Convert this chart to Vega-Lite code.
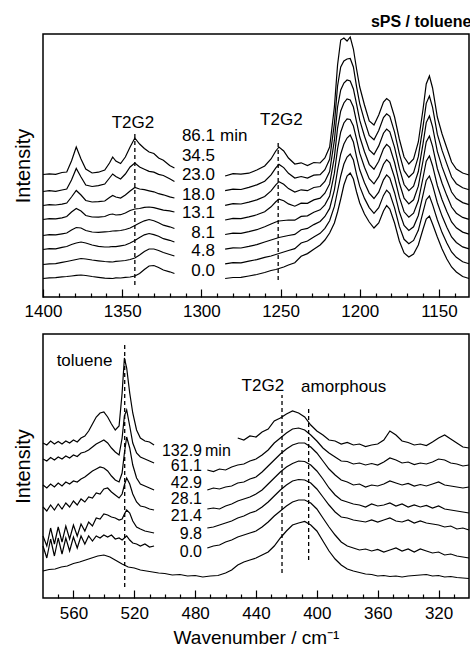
{
"$schema": "https://vega.github.io/schema/vega-lite/v6.json",
"background": "white",
"padding": {"left": 12, "top": 13, "right": 0, "bottom": 0},
"spacing": 9,
"config": {
  "font": "Liberation Sans",
  "view": {"stroke": "black", "strokeWidth": 1.5},
  "axis": {"grid": false, "domain": false, "labelColor": "black", "titleColor": "black", "tickColor": "black", "labelFont": "Liberation Sans", "titleFont": "Liberation Sans", "titleFontWeight": "normal"},
  "text": {"font": "Liberation Sans", "fontSize": 17, "color": "black"}
},
"datasets": {
"top": [
{"k":"t1a","x":1400,"y":122.5},{"k":"t1a","x":1396,"y":123.2},{"k":"t1a","x":1392,"y":122.6},{"k":"t1a","x":1388,"y":124.5},{"k":"t1a","x":1385,"y":125},{"k":"t1a","x":1382,"y":136},{"k":"t1a","x":1379,"y":150},{"k":"t1a","x":1376,"y":138},{"k":"t1a","x":1373,"y":128},{"k":"t1a","x":1369,"y":124},{"k":"t1a","x":1365,"y":124.8},{"k":"t1a","x":1361,"y":127},{"k":"t1a","x":1358,"y":134},{"k":"t1a","x":1356,"y":140},{"k":"t1a","x":1354,"y":136},{"k":"t1a","x":1351,"y":133.5},{"k":"t1a","x":1348,"y":140},{"k":"t1a","x":1345,"y":150},{"k":"t1a","x":1342,"y":159},{"k":"t1a","x":1339,"y":153},{"k":"t1a","x":1336,"y":148.5},{"k":"t1a","x":1333,"y":145},{"k":"t1a","x":1330,"y":143.5},{"k":"t1a","x":1327,"y":139},{"k":"t1a","x":1324,"y":136.8},{"k":"t1a","x":1320,"y":131.5},{"k":"t1a","x":1317,"y":129},
{"k":"t2a","x":1400,"y":105.5},{"k":"t2a","x":1396,"y":106.4},{"k":"t2a","x":1392,"y":105.6},{"k":"t2a","x":1388,"y":107},{"k":"t2a","x":1385,"y":108},{"k":"t2a","x":1382,"y":117},{"k":"t2a","x":1379,"y":128.5},{"k":"t2a","x":1376,"y":120},{"k":"t2a","x":1373,"y":112},{"k":"t2a","x":1369,"y":110.5},{"k":"t2a","x":1365,"y":111.3},{"k":"t2a","x":1361,"y":113},{"k":"t2a","x":1358,"y":119},{"k":"t2a","x":1356,"y":123},{"k":"t2a","x":1354,"y":120.5},{"k":"t2a","x":1351,"y":118},{"k":"t2a","x":1348,"y":123},{"k":"t2a","x":1345,"y":130},{"k":"t2a","x":1342,"y":134},{"k":"t2a","x":1339,"y":130},{"k":"t2a","x":1336,"y":127.8},{"k":"t2a","x":1333,"y":125.6},{"k":"t2a","x":1330,"y":124.8},{"k":"t2a","x":1327,"y":122.6},{"k":"t2a","x":1324,"y":121.5},{"k":"t2a","x":1320,"y":118.2},{"k":"t2a","x":1317,"y":115.5},
{"k":"t3a","x":1400,"y":91.5},{"k":"t3a","x":1396,"y":92.3},{"k":"t3a","x":1392,"y":92},{"k":"t3a","x":1388,"y":92.8},{"k":"t3a","x":1385,"y":94},{"k":"t3a","x":1382,"y":100},{"k":"t3a","x":1379,"y":106.5},{"k":"t3a","x":1376,"y":102},{"k":"t3a","x":1373,"y":96.5},{"k":"t3a","x":1369,"y":95},{"k":"t3a","x":1365,"y":95.4},{"k":"t3a","x":1361,"y":96},{"k":"t3a","x":1358,"y":99.5},{"k":"t3a","x":1356,"y":101.5},{"k":"t3a","x":1354,"y":100},{"k":"t3a","x":1351,"y":99},{"k":"t3a","x":1348,"y":102},{"k":"t3a","x":1345,"y":106},{"k":"t3a","x":1342,"y":109.5},{"k":"t3a","x":1339,"y":108},{"k":"t3a","x":1336,"y":107.3},{"k":"t3a","x":1333,"y":106.2},{"k":"t3a","x":1330,"y":105.2},{"k":"t3a","x":1327,"y":103.3},{"k":"t3a","x":1324,"y":102.2},{"k":"t3a","x":1320,"y":100.2},{"k":"t3a","x":1317,"y":99},
{"k":"t4a","x":1400,"y":77.5},{"k":"t4a","x":1396,"y":78.3},{"k":"t4a","x":1392,"y":78.2},{"k":"t4a","x":1388,"y":79.2},{"k":"t4a","x":1385,"y":80.5},{"k":"t4a","x":1382,"y":85},{"k":"t4a","x":1379,"y":88.5},{"k":"t4a","x":1376,"y":86},{"k":"t4a","x":1373,"y":81.5},{"k":"t4a","x":1369,"y":80},{"k":"t4a","x":1365,"y":79.8},{"k":"t4a","x":1361,"y":80.5},{"k":"t4a","x":1358,"y":82.5},{"k":"t4a","x":1356,"y":83},{"k":"t4a","x":1354,"y":82},{"k":"t4a","x":1351,"y":82.3},{"k":"t4a","x":1348,"y":84},{"k":"t4a","x":1345,"y":86.5},{"k":"t4a","x":1342,"y":88},{"k":"t4a","x":1339,"y":88.5},{"k":"t4a","x":1336,"y":89.7},{"k":"t4a","x":1333,"y":90},{"k":"t4a","x":1330,"y":89.3},{"k":"t4a","x":1327,"y":88.2},{"k":"t4a","x":1324,"y":86.8},{"k":"t4a","x":1320,"y":86.2},{"k":"t4a","x":1317,"y":85},
{"k":"t5a","x":1400,"y":61.5},{"k":"t5a","x":1396,"y":62.3},{"k":"t5a","x":1392,"y":62.2},{"k":"t5a","x":1388,"y":63.2},{"k":"t5a","x":1385,"y":64},{"k":"t5a","x":1382,"y":67},{"k":"t5a","x":1379,"y":69.5},{"k":"t5a","x":1376,"y":69},{"k":"t5a","x":1373,"y":66.5},{"k":"t5a","x":1369,"y":65},{"k":"t5a","x":1365,"y":64.7},{"k":"t5a","x":1361,"y":65.2},{"k":"t5a","x":1358,"y":65.5},{"k":"t5a","x":1356,"y":66},{"k":"t5a","x":1354,"y":66.2},{"k":"t5a","x":1351,"y":66.5},{"k":"t5a","x":1348,"y":67.5},{"k":"t5a","x":1345,"y":69},{"k":"t5a","x":1342,"y":71.5},{"k":"t5a","x":1339,"y":74},{"k":"t5a","x":1336,"y":76.2},{"k":"t5a","x":1333,"y":77.5},{"k":"t5a","x":1330,"y":76.3},{"k":"t5a","x":1327,"y":74.2},{"k":"t5a","x":1324,"y":71.8},{"k":"t5a","x":1320,"y":70.2},{"k":"t5a","x":1317,"y":68.5},
{"k":"t6a","x":1400,"y":47.5},{"k":"t6a","x":1396,"y":48.3},{"k":"t6a","x":1392,"y":48.2},{"k":"t6a","x":1388,"y":49.7},{"k":"t6a","x":1385,"y":50.5},{"k":"t6a","x":1382,"y":52.5},{"k":"t6a","x":1379,"y":54},{"k":"t6a","x":1376,"y":55},{"k":"t6a","x":1373,"y":54},{"k":"t6a","x":1369,"y":52},{"k":"t6a","x":1365,"y":50.7},{"k":"t6a","x":1361,"y":50},{"k":"t6a","x":1358,"y":50.2},{"k":"t6a","x":1356,"y":50.5},{"k":"t6a","x":1354,"y":50.3},{"k":"t6a","x":1351,"y":51.2},{"k":"t6a","x":1348,"y":52},{"k":"t6a","x":1345,"y":54},{"k":"t6a","x":1342,"y":56.5},{"k":"t6a","x":1339,"y":59.5},{"k":"t6a","x":1336,"y":62.2},{"k":"t6a","x":1333,"y":63.5},{"k":"t6a","x":1330,"y":62.3},{"k":"t6a","x":1327,"y":60.7},{"k":"t6a","x":1324,"y":58.3},{"k":"t6a","x":1320,"y":56.7},{"k":"t6a","x":1317,"y":55},
{"k":"t7a","x":1400,"y":32.5},{"k":"t7a","x":1396,"y":33.2},{"k":"t7a","x":1392,"y":33.3},{"k":"t7a","x":1388,"y":34.6},{"k":"t7a","x":1385,"y":35.5},{"k":"t7a","x":1382,"y":36.5},{"k":"t7a","x":1379,"y":37.5},{"k":"t7a","x":1376,"y":38.5},{"k":"t7a","x":1373,"y":38},{"k":"t7a","x":1369,"y":37},{"k":"t7a","x":1365,"y":36.2},{"k":"t7a","x":1361,"y":35.5},{"k":"t7a","x":1358,"y":35.2},{"k":"t7a","x":1356,"y":35},{"k":"t7a","x":1354,"y":35.6},{"k":"t7a","x":1351,"y":36},{"k":"t7a","x":1348,"y":36.5},{"k":"t7a","x":1345,"y":37.5},{"k":"t7a","x":1342,"y":39},{"k":"t7a","x":1339,"y":42},{"k":"t7a","x":1336,"y":45.5},{"k":"t7a","x":1333,"y":48},{"k":"t7a","x":1330,"y":48},{"k":"t7a","x":1327,"y":46.5},{"k":"t7a","x":1324,"y":44.5},{"k":"t7a","x":1320,"y":42.5},{"k":"t7a","x":1317,"y":41},
{"k":"t8a","x":1400,"y":18.5},{"k":"t8a","x":1396,"y":19.2},{"k":"t8a","x":1392,"y":19.3},{"k":"t8a","x":1388,"y":20.2},{"k":"t8a","x":1385,"y":20.5},{"k":"t8a","x":1382,"y":21},{"k":"t8a","x":1379,"y":21.6},{"k":"t8a","x":1376,"y":22},{"k":"t8a","x":1373,"y":21.5},{"k":"t8a","x":1369,"y":20.5},{"k":"t8a","x":1365,"y":19.7},{"k":"t8a","x":1361,"y":18.8},{"k":"t8a","x":1358,"y":18.6},{"k":"t8a","x":1356,"y":18.5},{"k":"t8a","x":1354,"y":19.1},{"k":"t8a","x":1351,"y":19},{"k":"t8a","x":1348,"y":19.6},{"k":"t8a","x":1345,"y":20},{"k":"t8a","x":1342,"y":21},{"k":"t8a","x":1339,"y":23.5},{"k":"t8a","x":1336,"y":27.5},{"k":"t8a","x":1333,"y":31},{"k":"t8a","x":1330,"y":31.5},{"k":"t8a","x":1327,"y":29.5},{"k":"t8a","x":1324,"y":27},{"k":"t8a","x":1320,"y":25.2},{"k":"t8a","x":1317,"y":23.5},
{"k":"t1b","x":1285,"y":121},{"k":"t1b","x":1280,"y":123.3},{"k":"t1b","x":1275,"y":122.8},{"k":"t1b","x":1270,"y":123.8},{"k":"t1b","x":1265,"y":127},{"k":"t1b","x":1260,"y":131},{"k":"t1b","x":1256,"y":138},{"k":"t1b","x":1253,"y":146},{"k":"t1b","x":1251,"y":150},{"k":"t1b","x":1248,"y":146},{"k":"t1b","x":1245,"y":139},{"k":"t1b","x":1241,"y":133},{"k":"t1b","x":1237,"y":134.2},{"k":"t1b","x":1233,"y":131.5},{"k":"t1b","x":1229,"y":134.5},{"k":"t1b","x":1225,"y":134},{"k":"t1b","x":1222,"y":139},{"k":"t1b","x":1219,"y":150},{"k":"t1b","x":1216,"y":190},{"k":"t1b","x":1214,"y":232},{"k":"t1b","x":1212,"y":257},{"k":"t1b","x":1210,"y":259},{"k":"t1b","x":1208,"y":256},{"k":"t1b","x":1206,"y":260},{"k":"t1b","x":1204,"y":248},{"k":"t1b","x":1202,"y":228},{"k":"t1b","x":1200,"y":210},{"k":"t1b","x":1197,"y":192},{"k":"t1b","x":1194,"y":176},{"k":"t1b","x":1191,"y":172},{"k":"t1b","x":1188,"y":182},{"k":"t1b","x":1185,"y":195},{"k":"t1b","x":1183,"y":198.5},{"k":"t1b","x":1181,"y":196},{"k":"t1b","x":1178,"y":180},{"k":"t1b","x":1175,"y":158},{"k":"t1b","x":1172,"y":140},{"k":"t1b","x":1169,"y":133},{"k":"t1b","x":1166,"y":138},{"k":"t1b","x":1163,"y":155},{"k":"t1b","x":1160,"y":188},{"k":"t1b","x":1158,"y":213},{"k":"t1b","x":1156,"y":221},{"k":"t1b","x":1154,"y":209},{"k":"t1b","x":1151,"y":180},{"k":"t1b","x":1148,"y":163},{"k":"t1b","x":1145,"y":149},{"k":"t1b","x":1142,"y":135},{"k":"t1b","x":1139,"y":128},{"k":"t1b","x":1135,"y":124},{"k":"t1b","x":1131,"y":122},
{"k":"t2b","x":1285,"y":106.3},{"k":"t2b","x":1280,"y":107.9},{"k":"t2b","x":1275,"y":107.5},{"k":"t2b","x":1270,"y":109.7},{"k":"t2b","x":1265,"y":112.1},{"k":"t2b","x":1260,"y":115.8},{"k":"t2b","x":1256,"y":122.1},{"k":"t2b","x":1253,"y":129.1},{"k":"t2b","x":1251,"y":132.6},{"k":"t2b","x":1248,"y":129.4},{"k":"t2b","x":1245,"y":123.7},{"k":"t2b","x":1241,"y":119},{"k":"t2b","x":1237,"y":120.5},{"k":"t2b","x":1233,"y":119},{"k":"t2b","x":1229,"y":121.8},{"k":"t2b","x":1225,"y":122.3},{"k":"t2b","x":1222,"y":127.3},{"k":"t2b","x":1219,"y":137.7},{"k":"t2b","x":1216,"y":173.4},{"k":"t2b","x":1214,"y":211},{"k":"t2b","x":1212,"y":230},{"k":"t2b","x":1210,"y":236},{"k":"t2b","x":1208,"y":238},{"k":"t2b","x":1206,"y":238.5},{"k":"t2b","x":1204,"y":230},{"k":"t2b","x":1202,"y":210.4},{"k":"t2b","x":1200,"y":193.4},{"k":"t2b","x":1197,"y":176.4},{"k":"t2b","x":1194,"y":161.6},{"k":"t2b","x":1191,"y":157.3},{"k":"t2b","x":1188,"y":166.6},{"k":"t2b","x":1185,"y":179.4},{"k":"t2b","x":1183,"y":183.2},{"k":"t2b","x":1181,"y":180.6},{"k":"t2b","x":1178,"y":164.8},{"k":"t2b","x":1175,"y":143.4},{"k":"t2b","x":1172,"y":126.3},{"k":"t2b","x":1169,"y":119.7},{"k":"t2b","x":1166,"y":124.4},{"k":"t2b","x":1163,"y":140.3},{"k":"t2b","x":1160,"y":170.8},{"k":"t2b","x":1158,"y":193.7},{"k":"t2b","x":1156,"y":201},{"k":"t2b","x":1154,"y":189.6},{"k":"t2b","x":1151,"y":162.8},{"k":"t2b","x":1148,"y":146.6},{"k":"t2b","x":1145,"y":133.1},{"k":"t2b","x":1142,"y":120},{"k":"t2b","x":1139,"y":113.3},{"k":"t2b","x":1135,"y":109.2},{"k":"t2b","x":1131,"y":107.2},
{"k":"t3b","x":1285,"y":91.7},{"k":"t3b","x":1280,"y":93.3},{"k":"t3b","x":1275,"y":93},{"k":"t3b","x":1270,"y":94.9},{"k":"t3b","x":1265,"y":97.1},{"k":"t3b","x":1260,"y":100.5},{"k":"t3b","x":1256,"y":106.1},{"k":"t3b","x":1253,"y":112.1},{"k":"t3b","x":1251,"y":115.3},{"k":"t3b","x":1248,"y":112.8},{"k":"t3b","x":1245,"y":108.4},{"k":"t3b","x":1241,"y":105},{"k":"t3b","x":1237,"y":107.2},{"k":"t3b","x":1233,"y":106.3},{"k":"t3b","x":1229,"y":109.5},{"k":"t3b","x":1225,"y":110.5},{"k":"t3b","x":1222,"y":115.5},{"k":"t3b","x":1219,"y":125.4},{"k":"t3b","x":1216,"y":156.8},{"k":"t3b","x":1214,"y":190},{"k":"t3b","x":1212,"y":207},{"k":"t3b","x":1210,"y":214},{"k":"t3b","x":1208,"y":217},{"k":"t3b","x":1206,"y":216},{"k":"t3b","x":1204,"y":208},{"k":"t3b","x":1202,"y":192.8},{"k":"t3b","x":1200,"y":176.8},{"k":"t3b","x":1197,"y":160.8},{"k":"t3b","x":1194,"y":147.1},{"k":"t3b","x":1191,"y":142.5},{"k":"t3b","x":1188,"y":151.1},{"k":"t3b","x":1185,"y":163.8},{"k":"t3b","x":1183,"y":167.9},{"k":"t3b","x":1181,"y":165.1},{"k":"t3b","x":1178,"y":149.7},{"k":"t3b","x":1175,"y":128.8},{"k":"t3b","x":1172,"y":112.5},{"k":"t3b","x":1169,"y":106.4},{"k":"t3b","x":1166,"y":110.8},{"k":"t3b","x":1163,"y":125.5},{"k":"t3b","x":1160,"y":153.7},{"k":"t3b","x":1158,"y":174.4},{"k":"t3b","x":1156,"y":181},{"k":"t3b","x":1154,"y":170.1},{"k":"t3b","x":1151,"y":145.7},{"k":"t3b","x":1148,"y":130.1},{"k":"t3b","x":1145,"y":117.3},{"k":"t3b","x":1142,"y":105},{"k":"t3b","x":1139,"y":98.5},{"k":"t3b","x":1135,"y":94.4},{"k":"t3b","x":1131,"y":92.4},
{"k":"t4b","x":1285,"y":77},{"k":"t4b","x":1280,"y":78.6},{"k":"t4b","x":1275,"y":78.3},{"k":"t4b","x":1270,"y":80.1},{"k":"t4b","x":1265,"y":82.2},{"k":"t4b","x":1260,"y":85.3},{"k":"t4b","x":1256,"y":90.2},{"k":"t4b","x":1253,"y":95.2},{"k":"t4b","x":1251,"y":97.9},{"k":"t4b","x":1248,"y":96.2},{"k":"t4b","x":1245,"y":93.1},{"k":"t4b","x":1241,"y":90.8},{"k":"t4b","x":1237,"y":93.9},{"k":"t4b","x":1233,"y":93.6},{"k":"t4b","x":1229,"y":97.1},{"k":"t4b","x":1225,"y":98.8},{"k":"t4b","x":1222,"y":103.8},{"k":"t4b","x":1219,"y":113.1},{"k":"t4b","x":1216,"y":140.2},{"k":"t4b","x":1214,"y":168.9},{"k":"t4b","x":1212,"y":186},{"k":"t4b","x":1210,"y":194},{"k":"t4b","x":1208,"y":198},{"k":"t4b","x":1206,"y":197},{"k":"t4b","x":1204,"y":190},{"k":"t4b","x":1202,"y":175.2},{"k":"t4b","x":1200,"y":160.2},{"k":"t4b","x":1197,"y":145.2},{"k":"t4b","x":1194,"y":132.7},{"k":"t4b","x":1191,"y":127.8},{"k":"t4b","x":1188,"y":135.7},{"k":"t4b","x":1185,"y":148.2},{"k":"t4b","x":1183,"y":152.6},{"k":"t4b","x":1181,"y":149.7},{"k":"t4b","x":1178,"y":134.5},{"k":"t4b","x":1175,"y":114.2},{"k":"t4b","x":1172,"y":98.8},{"k":"t4b","x":1169,"y":93.1},{"k":"t4b","x":1166,"y":97.2},{"k":"t4b","x":1163,"y":110.8},{"k":"t4b","x":1160,"y":136.5},{"k":"t4b","x":1158,"y":155.1},{"k":"t4b","x":1156,"y":161},{"k":"t4b","x":1154,"y":150.7},{"k":"t4b","x":1151,"y":128.5},{"k":"t4b","x":1148,"y":113.7},{"k":"t4b","x":1145,"y":101.4},{"k":"t4b","x":1142,"y":90},{"k":"t4b","x":1139,"y":83.8},{"k":"t4b","x":1135,"y":79.6},{"k":"t4b","x":1131,"y":77.6},
{"k":"t5b","x":1285,"y":62.5},{"k":"t5b","x":1280,"y":63.9},{"k":"t5b","x":1275,"y":63.7},{"k":"t5b","x":1270,"y":65.4},{"k":"t5b","x":1265,"y":67.3},{"k":"t5b","x":1260,"y":70.2},{"k":"t5b","x":1256,"y":73},{"k":"t5b","x":1253,"y":75},{"k":"t5b","x":1251,"y":76},{"k":"t5b","x":1248,"y":76.5},{"k":"t5b","x":1245,"y":77},{"k":"t5b","x":1241,"y":76.8},{"k":"t5b","x":1237,"y":80.6},{"k":"t5b","x":1233,"y":81.2},{"k":"t5b","x":1229,"y":84.8},{"k":"t5b","x":1225,"y":87.2},{"k":"t5b","x":1222,"y":92.2},{"k":"t5b","x":1219,"y":100.9},{"k":"t5b","x":1216,"y":123.8},{"k":"t5b","x":1214,"y":148.1},{"k":"t5b","x":1212,"y":165},{"k":"t5b","x":1210,"y":174},{"k":"t5b","x":1208,"y":178},{"k":"t5b","x":1206,"y":177.5},{"k":"t5b","x":1204,"y":171},{"k":"t5b","x":1202,"y":157.8},{"k":"t5b","x":1200,"y":143.8},{"k":"t5b","x":1197,"y":129.8},{"k":"t5b","x":1194,"y":118.3},{"k":"t5b","x":1191,"y":113.2},{"k":"t5b","x":1188,"y":120.3},{"k":"t5b","x":1185,"y":132.8},{"k":"t5b","x":1183,"y":137.4},{"k":"t5b","x":1181,"y":134.3},{"k":"t5b","x":1178,"y":119.5},{"k":"t5b","x":1175,"y":99.8},{"k":"t5b","x":1172,"y":85.2},{"k":"t5b","x":1169,"y":79.9},{"k":"t5b","x":1166,"y":83.8},{"k":"t5b","x":1163,"y":96.2},{"k":"t5b","x":1160,"y":119.5},{"k":"t5b","x":1158,"y":135.9},{"k":"t5b","x":1156,"y":141.1},{"k":"t5b","x":1154,"y":131.3},{"k":"t5b","x":1151,"y":111.5},{"k":"t5b","x":1148,"y":97.3},{"k":"t5b","x":1145,"y":85.6},{"k":"t5b","x":1142,"y":75},{"k":"t5b","x":1139,"y":69.2},{"k":"t5b","x":1135,"y":64.9},{"k":"t5b","x":1131,"y":62.9},
{"k":"t6b","x":1285,"y":47.8},{"k":"t6b","x":1280,"y":49.1},{"k":"t6b","x":1275,"y":49},{"k":"t6b","x":1270,"y":50.6},{"k":"t6b","x":1265,"y":52.4},{"k":"t6b","x":1260,"y":55},{"k":"t6b","x":1256,"y":57},{"k":"t6b","x":1253,"y":58.5},{"k":"t6b","x":1251,"y":59.5},{"k":"t6b","x":1248,"y":60.5},{"k":"t6b","x":1245,"y":61.5},{"k":"t6b","x":1241,"y":62.6},{"k":"t6b","x":1237,"y":67.3},{"k":"t6b","x":1233,"y":68.6},{"k":"t6b","x":1229,"y":72.4},{"k":"t6b","x":1225,"y":75.5},{"k":"t6b","x":1222,"y":80.5},{"k":"t6b","x":1219,"y":88.6},{"k":"t6b","x":1216,"y":107.2},{"k":"t6b","x":1214,"y":127},{"k":"t6b","x":1212,"y":143},{"k":"t6b","x":1210,"y":153},{"k":"t6b","x":1208,"y":159},{"k":"t6b","x":1206,"y":162},{"k":"t6b","x":1204,"y":155},{"k":"t6b","x":1202,"y":140.2},{"k":"t6b","x":1200,"y":127.2},{"k":"t6b","x":1197,"y":114.2},{"k":"t6b","x":1194,"y":103.9},{"k":"t6b","x":1191,"y":98.5},{"k":"t6b","x":1188,"y":104.9},{"k":"t6b","x":1185,"y":117.2},{"k":"t6b","x":1183,"y":122.1},{"k":"t6b","x":1181,"y":118.9},{"k":"t6b","x":1178,"y":104.3},{"k":"t6b","x":1175,"y":85.2},{"k":"t6b","x":1172,"y":71.5},{"k":"t6b","x":1169,"y":66.6},{"k":"t6b","x":1166,"y":70.2},{"k":"t6b","x":1163,"y":81.5},{"k":"t6b","x":1160,"y":102.3},{"k":"t6b","x":1158,"y":116.6},{"k":"t6b","x":1156,"y":121},{"k":"t6b","x":1154,"y":111.9},{"k":"t6b","x":1151,"y":94.3},{"k":"t6b","x":1148,"y":80.9},{"k":"t6b","x":1145,"y":69.7},{"k":"t6b","x":1142,"y":60},{"k":"t6b","x":1139,"y":54.5},{"k":"t6b","x":1135,"y":50.1},{"k":"t6b","x":1131,"y":48.1},
{"k":"t7b","x":1285,"y":33.2},{"k":"t7b","x":1280,"y":34.3},{"k":"t7b","x":1275,"y":34.2},{"k":"t7b","x":1270,"y":35.8},{"k":"t7b","x":1265,"y":37.4},{"k":"t7b","x":1260,"y":39.7},{"k":"t7b","x":1256,"y":41},{"k":"t7b","x":1253,"y":42.5},{"k":"t7b","x":1251,"y":43.5},{"k":"t7b","x":1248,"y":45},{"k":"t7b","x":1245,"y":46.5},{"k":"t7b","x":1241,"y":48.3},{"k":"t7b","x":1237,"y":54},{"k":"t7b","x":1233,"y":56},{"k":"t7b","x":1229,"y":60.1},{"k":"t7b","x":1225,"y":63.7},{"k":"t7b","x":1222,"y":68.7},{"k":"t7b","x":1219,"y":76.3},{"k":"t7b","x":1216,"y":90.6},{"k":"t7b","x":1214,"y":106},{"k":"t7b","x":1212,"y":121},{"k":"t7b","x":1210,"y":133},{"k":"t7b","x":1208,"y":140},{"k":"t7b","x":1206,"y":143},{"k":"t7b","x":1204,"y":137},{"k":"t7b","x":1202,"y":122.6},{"k":"t7b","x":1200,"y":110.6},{"k":"t7b","x":1197,"y":98.6},{"k":"t7b","x":1194,"y":89.4},{"k":"t7b","x":1191,"y":83.7},{"k":"t7b","x":1188,"y":89.4},{"k":"t7b","x":1185,"y":101.6},{"k":"t7b","x":1183,"y":106.8},{"k":"t7b","x":1181,"y":103.4},{"k":"t7b","x":1178,"y":89.2},{"k":"t7b","x":1175,"y":70.6},{"k":"t7b","x":1172,"y":57.7},{"k":"t7b","x":1169,"y":53.3},{"k":"t7b","x":1166,"y":56.6},{"k":"t7b","x":1163,"y":66.7},{"k":"t7b","x":1160,"y":85.2},{"k":"t7b","x":1158,"y":97.3},{"k":"t7b","x":1156,"y":101},{"k":"t7b","x":1154,"y":92.4},{"k":"t7b","x":1151,"y":77.2},{"k":"t7b","x":1148,"y":64.4},{"k":"t7b","x":1145,"y":53.9},{"k":"t7b","x":1142,"y":45},{"k":"t7b","x":1139,"y":39.7},{"k":"t7b","x":1135,"y":35.3},{"k":"t7b","x":1131,"y":33.3},
{"k":"t8b","x":1285,"y":18.5},{"k":"t8b","x":1280,"y":19.5},{"k":"t8b","x":1275,"y":19.6},{"k":"t8b","x":1270,"y":21},{"k":"t8b","x":1265,"y":22.5},{"k":"t8b","x":1260,"y":24.5},{"k":"t8b","x":1256,"y":26.5},{"k":"t8b","x":1253,"y":27.5},{"k":"t8b","x":1251,"y":28.5},{"k":"t8b","x":1248,"y":30},{"k":"t8b","x":1245,"y":32},{"k":"t8b","x":1241,"y":34.3},{"k":"t8b","x":1237,"y":40.7},{"k":"t8b","x":1233,"y":43.4},{"k":"t8b","x":1229,"y":47.7},{"k":"t8b","x":1225,"y":52},{"k":"t8b","x":1222,"y":57},{"k":"t8b","x":1219,"y":64},{"k":"t8b","x":1216,"y":74},{"k":"t8b","x":1214,"y":85},{"k":"t8b","x":1212,"y":98},{"k":"t8b","x":1210,"y":112},{"k":"t8b","x":1208,"y":121},{"k":"t8b","x":1206,"y":124},{"k":"t8b","x":1204,"y":118},{"k":"t8b","x":1202,"y":105},{"k":"t8b","x":1200,"y":94},{"k":"t8b","x":1197,"y":83},{"k":"t8b","x":1194,"y":75},{"k":"t8b","x":1191,"y":69},{"k":"t8b","x":1188,"y":74},{"k":"t8b","x":1185,"y":86},{"k":"t8b","x":1183,"y":91.5},{"k":"t8b","x":1181,"y":88},{"k":"t8b","x":1178,"y":74},{"k":"t8b","x":1175,"y":56},{"k":"t8b","x":1172,"y":44},{"k":"t8b","x":1169,"y":40},{"k":"t8b","x":1166,"y":43},{"k":"t8b","x":1163,"y":52},{"k":"t8b","x":1160,"y":68},{"k":"t8b","x":1158,"y":78},{"k":"t8b","x":1156,"y":81},{"k":"t8b","x":1154,"y":73},{"k":"t8b","x":1151,"y":60},{"k":"t8b","x":1148,"y":48},{"k":"t8b","x":1145,"y":38},{"k":"t8b","x":1142,"y":30},{"k":"t8b","x":1139,"y":25},{"k":"t8b","x":1135,"y":20.5},{"k":"t8b","x":1131,"y":18.5}
],
"topRule": [{"x":1342,"y":12,"y2":165},{"x":1251.5,"y":17,"y2":157}],
"topNum": [{"t":"86.1","x":1291.4,"y":161},{"t":"34.5","x":1291.4,"y":141},{"t":"23.0","x":1291.4,"y":122.5},{"t":"18.0","x":1291.4,"y":102.5},{"t":"13.1","x":1291.4,"y":84},{"t":"8.1","x":1291.4,"y":64},{"t":"4.8","x":1291.4,"y":46},{"t":"0.0","x":1291.4,"y":26}],
"topMin": [{"t":"min","x":1288.2,"y":161}],
"topAnn": [{"t":"T2G2","x":1343.2,"y":174.5},{"t":"T2G2","x":1249.5,"y":177.5}],
"bot": [
{"k":"b1a","x":580,"y":155},{"k":"b1a","x":577.5,"y":153},{"k":"b1a","x":575,"y":157},{"k":"b1a","x":572.5,"y":154},{"k":"b1a","x":570,"y":156.5},{"k":"b1a","x":567.5,"y":154},{"k":"b1a","x":565,"y":157},{"k":"b1a","x":562.5,"y":155},{"k":"b1a","x":560,"y":158},{"k":"b1a","x":557.5,"y":156},{"k":"b1a","x":555,"y":160},{"k":"b1a","x":552.5,"y":162},{"k":"b1a","x":550,"y":167},{"k":"b1a","x":547.5,"y":174},{"k":"b1a","x":545,"y":181},{"k":"b1a","x":542.5,"y":185},{"k":"b1a","x":540,"y":186},{"k":"b1a","x":537.5,"y":181},{"k":"b1a","x":535,"y":174},{"k":"b1a","x":532.5,"y":168},{"k":"b1a","x":530,"y":172},{"k":"b1a","x":528,"y":205},{"k":"b1a","x":526.5,"y":240},{"k":"b1a","x":525,"y":230},{"k":"b1a","x":523,"y":205},{"k":"b1a","x":521,"y":185},{"k":"b1a","x":518.5,"y":168},{"k":"b1a","x":516,"y":160},{"k":"b1a","x":513,"y":157},{"k":"b1a","x":510,"y":156},{"k":"b1a","x":507,"y":153},
{"k":"b2a","x":580,"y":139},{"k":"b2a","x":577.5,"y":137},{"k":"b2a","x":575,"y":140.5},{"k":"b2a","x":572.5,"y":138},{"k":"b2a","x":570,"y":141},{"k":"b2a","x":567.5,"y":139},{"k":"b2a","x":565,"y":142},{"k":"b2a","x":562.5,"y":140},{"k":"b2a","x":560,"y":143},{"k":"b2a","x":557.5,"y":141.5},{"k":"b2a","x":555,"y":145},{"k":"b2a","x":552.5,"y":146},{"k":"b2a","x":550,"y":148},{"k":"b2a","x":547.5,"y":151},{"k":"b2a","x":545,"y":154},{"k":"b2a","x":542.5,"y":156},{"k":"b2a","x":540,"y":158},{"k":"b2a","x":537.5,"y":155},{"k":"b2a","x":535,"y":150},{"k":"b2a","x":532.5,"y":146},{"k":"b2a","x":530,"y":143},{"k":"b2a","x":528,"y":160},{"k":"b2a","x":526.5,"y":182},{"k":"b2a","x":525,"y":188},{"k":"b2a","x":523,"y":172},{"k":"b2a","x":521,"y":155},{"k":"b2a","x":518.5,"y":145},{"k":"b2a","x":516,"y":141},{"k":"b2a","x":513,"y":139},{"k":"b2a","x":510,"y":137},{"k":"b2a","x":507,"y":135},
{"k":"b3a","x":580,"y":113},{"k":"b3a","x":577.5,"y":110},{"k":"b3a","x":575,"y":114},{"k":"b3a","x":572.5,"y":111},{"k":"b3a","x":570,"y":115},{"k":"b3a","x":567.5,"y":112},{"k":"b3a","x":565,"y":116},{"k":"b3a","x":562.5,"y":114},{"k":"b3a","x":560,"y":117},{"k":"b3a","x":557.5,"y":116},{"k":"b3a","x":555,"y":119},{"k":"b3a","x":552.5,"y":121},{"k":"b3a","x":550,"y":124},{"k":"b3a","x":547.5,"y":127},{"k":"b3a","x":545,"y":129},{"k":"b3a","x":542.5,"y":131},{"k":"b3a","x":540,"y":130},{"k":"b3a","x":537.5,"y":127},{"k":"b3a","x":535,"y":122},{"k":"b3a","x":532.5,"y":118},{"k":"b3a","x":530,"y":116},{"k":"b3a","x":528,"y":125},{"k":"b3a","x":526.5,"y":145},{"k":"b3a","x":525,"y":161},{"k":"b3a","x":523,"y":150},{"k":"b3a","x":521,"y":133},{"k":"b3a","x":518.5,"y":120},{"k":"b3a","x":516,"y":114},{"k":"b3a","x":513,"y":112},{"k":"b3a","x":510,"y":110},{"k":"b3a","x":507,"y":108},
{"k":"b4a","x":580,"y":91},{"k":"b4a","x":577.5,"y":87},{"k":"b4a","x":575,"y":93},{"k":"b4a","x":572.5,"y":88},{"k":"b4a","x":570,"y":94},{"k":"b4a","x":567.5,"y":89},{"k":"b4a","x":565,"y":95},{"k":"b4a","x":562.5,"y":91},{"k":"b4a","x":560,"y":97},{"k":"b4a","x":557.5,"y":93},{"k":"b4a","x":555,"y":99},{"k":"b4a","x":552.5,"y":96},{"k":"b4a","x":550,"y":101},{"k":"b4a","x":547.5,"y":100},{"k":"b4a","x":545,"y":105},{"k":"b4a","x":542.5,"y":104},{"k":"b4a","x":540,"y":109},{"k":"b4a","x":537.5,"y":110},{"k":"b4a","x":535,"y":106},{"k":"b4a","x":532.5,"y":103},{"k":"b4a","x":530,"y":100},{"k":"b4a","x":528,"y":104},{"k":"b4a","x":526.5,"y":113},{"k":"b4a","x":525,"y":120},{"k":"b4a","x":523,"y":114},{"k":"b4a","x":521,"y":104},{"k":"b4a","x":518.5,"y":96},{"k":"b4a","x":516,"y":92},{"k":"b4a","x":513,"y":91},{"k":"b4a","x":510,"y":89},{"k":"b4a","x":507,"y":88},
{"k":"b5a","x":580,"y":62},{"k":"b5a","x":577.5,"y":52},{"k":"b5a","x":575,"y":70},{"k":"b5a","x":572.5,"y":54},{"k":"b5a","x":570,"y":71},{"k":"b5a","x":567.5,"y":56},{"k":"b5a","x":565,"y":72},{"k":"b5a","x":562.5,"y":59},{"k":"b5a","x":560,"y":73},{"k":"b5a","x":557.5,"y":62},{"k":"b5a","x":555,"y":74},{"k":"b5a","x":552.5,"y":67},{"k":"b5a","x":550,"y":76},{"k":"b5a","x":547.5,"y":72},{"k":"b5a","x":545,"y":80},{"k":"b5a","x":542.5,"y":79},{"k":"b5a","x":540,"y":84},{"k":"b5a","x":537.5,"y":83},{"k":"b5a","x":535,"y":81},{"k":"b5a","x":532.5,"y":80},{"k":"b5a","x":530,"y":78},{"k":"b5a","x":528,"y":79},{"k":"b5a","x":526.5,"y":84},{"k":"b5a","x":525,"y":88},{"k":"b5a","x":523,"y":85},{"k":"b5a","x":521,"y":77},{"k":"b5a","x":518.5,"y":71},{"k":"b5a","x":516,"y":69},{"k":"b5a","x":513,"y":67},{"k":"b5a","x":510,"y":66},{"k":"b5a","x":507,"y":65},
{"k":"b6a","x":580,"y":52},{"k":"b6a","x":577.5,"y":40},{"k":"b6a","x":575,"y":59},{"k":"b6a","x":572.5,"y":42},{"k":"b6a","x":570,"y":60},{"k":"b6a","x":567.5,"y":44},{"k":"b6a","x":565,"y":60},{"k":"b6a","x":562.5,"y":47},{"k":"b6a","x":560,"y":61},{"k":"b6a","x":557.5,"y":50},{"k":"b6a","x":555,"y":62},{"k":"b6a","x":552.5,"y":54},{"k":"b6a","x":550,"y":62},{"k":"b6a","x":547.5,"y":57},{"k":"b6a","x":545,"y":62},{"k":"b6a","x":542.5,"y":60},{"k":"b6a","x":540,"y":63},{"k":"b6a","x":537.5,"y":61},{"k":"b6a","x":535,"y":63},{"k":"b6a","x":532.5,"y":59},{"k":"b6a","x":530,"y":60},{"k":"b6a","x":528,"y":58},{"k":"b6a","x":526.5,"y":60},{"k":"b6a","x":525,"y":62},{"k":"b6a","x":523,"y":58},{"k":"b6a","x":521,"y":55},{"k":"b6a","x":518.5,"y":54},{"k":"b6a","x":516,"y":52},{"k":"b6a","x":513,"y":54},{"k":"b6a","x":510,"y":51},{"k":"b6a","x":507,"y":52},
{"k":"b7","x":580,"y":27},{"k":"b7","x":576,"y":28.5},{"k":"b7","x":572,"y":29},{"k":"b7","x":568,"y":31},{"k":"b7","x":564,"y":32},{"k":"b7","x":560,"y":34.5},{"k":"b7","x":556,"y":36},{"k":"b7","x":552,"y":38},{"k":"b7","x":548,"y":40},{"k":"b7","x":544,"y":42},{"k":"b7","x":540,"y":43},{"k":"b7","x":536,"y":41},{"k":"b7","x":532,"y":37.5},{"k":"b7","x":528,"y":34},{"k":"b7","x":524,"y":31},{"k":"b7","x":520,"y":30},{"k":"b7","x":516,"y":28},{"k":"b7","x":512,"y":27},{"k":"b7","x":508,"y":26},{"k":"b7","x":504,"y":25},{"k":"b7","x":500,"y":24.5},{"k":"b7","x":495,"y":23},{"k":"b7","x":490,"y":23.5},{"k":"b7","x":485,"y":22},{"k":"b7","x":480,"y":22.5},{"k":"b7","x":475,"y":21},{"k":"b7","x":470,"y":22},{"k":"b7","x":465,"y":22.5},{"k":"b7","x":460,"y":25},{"k":"b7","x":456,"y":28},{"k":"b7","x":452,"y":33},{"k":"b7","x":448,"y":36},{"k":"b7","x":444,"y":38},{"k":"b7","x":440,"y":40},{"k":"b7","x":436,"y":43},{"k":"b7","x":432,"y":46},{"k":"b7","x":428,"y":52},{"k":"b7","x":424,"y":60},{"k":"b7","x":420,"y":67},{"k":"b7","x":416,"y":73},{"k":"b7","x":412,"y":75},{"k":"b7","x":408,"y":76.5},{"k":"b7","x":404,"y":73},{"k":"b7","x":400,"y":67},{"k":"b7","x":396,"y":57},{"k":"b7","x":392,"y":47},{"k":"b7","x":388,"y":39},{"k":"b7","x":384,"y":33},{"k":"b7","x":380,"y":29},{"k":"b7","x":376,"y":27},{"k":"b7","x":372,"y":25.5},{"k":"b7","x":368,"y":24},{"k":"b7","x":364,"y":23.5},{"k":"b7","x":360,"y":22},{"k":"b7","x":356,"y":22.5},{"k":"b7","x":352,"y":21.5},{"k":"b7","x":348,"y":22},{"k":"b7","x":344,"y":21},{"k":"b7","x":340,"y":22},{"k":"b7","x":336,"y":22.5},{"k":"b7","x":332,"y":23},{"k":"b7","x":328,"y":23.5},{"k":"b7","x":324,"y":22},{"k":"b7","x":320,"y":22.5},{"k":"b7","x":316,"y":21},{"k":"b7","x":312,"y":21.5},{"k":"b7","x":308,"y":20.5},{"k":"b7","x":304,"y":20},{"k":"b7","x":300,"y":19.5},
{"k":"b1b","x":452,"y":160},{"k":"b1b","x":448,"y":158},{"k":"b1b","x":444,"y":162},{"k":"b1b","x":440,"y":161},{"k":"b1b","x":436,"y":166},{"k":"b1b","x":432,"y":169},{"k":"b1b","x":428,"y":177},{"k":"b1b","x":424,"y":180},{"k":"b1b","x":420,"y":184},{"k":"b1b","x":416,"y":187},{"k":"b1b","x":412,"y":185},{"k":"b1b","x":408,"y":181},{"k":"b1b","x":404,"y":173},{"k":"b1b","x":400,"y":167},{"k":"b1b","x":396,"y":163},{"k":"b1b","x":392,"y":158},{"k":"b1b","x":388,"y":157},{"k":"b1b","x":384,"y":154},{"k":"b1b","x":380,"y":155.5},{"k":"b1b","x":376,"y":153},{"k":"b1b","x":372,"y":154},{"k":"b1b","x":368,"y":151.5},{"k":"b1b","x":364,"y":153},{"k":"b1b","x":360,"y":154},{"k":"b1b","x":356,"y":158},{"k":"b1b","x":352,"y":167},{"k":"b1b","x":348,"y":163},{"k":"b1b","x":344,"y":157},{"k":"b1b","x":340,"y":155.5},{"k":"b1b","x":336,"y":153},{"k":"b1b","x":332,"y":154},{"k":"b1b","x":328,"y":152.5},{"k":"b1b","x":324,"y":156},{"k":"b1b","x":320,"y":160},{"k":"b1b","x":316,"y":163},{"k":"b1b","x":312,"y":159},{"k":"b1b","x":308,"y":155},{"k":"b1b","x":304,"y":151},{"k":"b1b","x":300,"y":150},
{"k":"b2b","x":472,"y":128},{"k":"b2b","x":468,"y":126.5},{"k":"b2b","x":464,"y":129},{"k":"b2b","x":460,"y":128},{"k":"b2b","x":456,"y":131},{"k":"b2b","x":452,"y":133},{"k":"b2b","x":448,"y":134},{"k":"b2b","x":444,"y":137},{"k":"b2b","x":440,"y":139},{"k":"b2b","x":436,"y":143},{"k":"b2b","x":432,"y":148},{"k":"b2b","x":428,"y":155},{"k":"b2b","x":424,"y":160},{"k":"b2b","x":420,"y":165},{"k":"b2b","x":416,"y":169},{"k":"b2b","x":412,"y":170},{"k":"b2b","x":408,"y":168},{"k":"b2b","x":404,"y":163},{"k":"b2b","x":400,"y":157},{"k":"b2b","x":396,"y":150},{"k":"b2b","x":392,"y":145},{"k":"b2b","x":388,"y":141},{"k":"b2b","x":384,"y":137},{"k":"b2b","x":380,"y":136.5},{"k":"b2b","x":376,"y":134},{"k":"b2b","x":372,"y":135},{"k":"b2b","x":368,"y":133},{"k":"b2b","x":364,"y":134.5},{"k":"b2b","x":360,"y":133},{"k":"b2b","x":356,"y":136},{"k":"b2b","x":352,"y":140},{"k":"b2b","x":348,"y":138},{"k":"b2b","x":344,"y":135},{"k":"b2b","x":340,"y":136},{"k":"b2b","x":336,"y":133.5},{"k":"b2b","x":332,"y":135},{"k":"b2b","x":328,"y":134},{"k":"b2b","x":324,"y":136},{"k":"b2b","x":320,"y":139},{"k":"b2b","x":316,"y":138},{"k":"b2b","x":312,"y":135},{"k":"b2b","x":308,"y":134},{"k":"b2b","x":304,"y":132},{"k":"b2b","x":300,"y":133},
{"k":"b3b","x":472,"y":108},{"k":"b3b","x":468,"y":110},{"k":"b3b","x":464,"y":109},{"k":"b3b","x":460,"y":111},{"k":"b3b","x":456,"y":112},{"k":"b3b","x":452,"y":115},{"k":"b3b","x":448,"y":116},{"k":"b3b","x":444,"y":119},{"k":"b3b","x":440,"y":121},{"k":"b3b","x":436,"y":126},{"k":"b3b","x":432,"y":132},{"k":"b3b","x":428,"y":138},{"k":"b3b","x":424,"y":144},{"k":"b3b","x":420,"y":149},{"k":"b3b","x":416,"y":153},{"k":"b3b","x":412,"y":155},{"k":"b3b","x":408,"y":155},{"k":"b3b","x":404,"y":151},{"k":"b3b","x":400,"y":145},{"k":"b3b","x":396,"y":137},{"k":"b3b","x":392,"y":129},{"k":"b3b","x":388,"y":123},{"k":"b3b","x":384,"y":118},{"k":"b3b","x":380,"y":116},{"k":"b3b","x":376,"y":113},{"k":"b3b","x":372,"y":114},{"k":"b3b","x":368,"y":111},{"k":"b3b","x":364,"y":113},{"k":"b3b","x":360,"y":112},{"k":"b3b","x":356,"y":114},{"k":"b3b","x":352,"y":117},{"k":"b3b","x":348,"y":115},{"k":"b3b","x":344,"y":113},{"k":"b3b","x":340,"y":114.5},{"k":"b3b","x":336,"y":112},{"k":"b3b","x":332,"y":113.5},{"k":"b3b","x":328,"y":112},{"k":"b3b","x":324,"y":114},{"k":"b3b","x":320,"y":116},{"k":"b3b","x":316,"y":113},{"k":"b3b","x":312,"y":112},{"k":"b3b","x":308,"y":111},{"k":"b3b","x":304,"y":110},{"k":"b3b","x":300,"y":111},
{"k":"b4b","x":472,"y":89},{"k":"b4b","x":468,"y":90},{"k":"b4b","x":464,"y":89},{"k":"b4b","x":460,"y":92},{"k":"b4b","x":456,"y":94},{"k":"b4b","x":452,"y":97},{"k":"b4b","x":448,"y":99},{"k":"b4b","x":444,"y":101},{"k":"b4b","x":440,"y":104},{"k":"b4b","x":436,"y":108},{"k":"b4b","x":432,"y":114},{"k":"b4b","x":428,"y":120},{"k":"b4b","x":424,"y":126},{"k":"b4b","x":420,"y":131},{"k":"b4b","x":416,"y":134.5},{"k":"b4b","x":412,"y":137},{"k":"b4b","x":408,"y":136.5},{"k":"b4b","x":404,"y":133},{"k":"b4b","x":400,"y":127},{"k":"b4b","x":396,"y":119},{"k":"b4b","x":392,"y":110},{"k":"b4b","x":388,"y":103},{"k":"b4b","x":384,"y":98},{"k":"b4b","x":380,"y":96},{"k":"b4b","x":376,"y":94},{"k":"b4b","x":372,"y":93},{"k":"b4b","x":368,"y":91},{"k":"b4b","x":364,"y":94},{"k":"b4b","x":360,"y":92},{"k":"b4b","x":356,"y":93},{"k":"b4b","x":352,"y":95},{"k":"b4b","x":348,"y":92},{"k":"b4b","x":344,"y":94},{"k":"b4b","x":340,"y":91},{"k":"b4b","x":336,"y":93},{"k":"b4b","x":332,"y":91},{"k":"b4b","x":328,"y":92.5},{"k":"b4b","x":324,"y":90},{"k":"b4b","x":320,"y":92},{"k":"b4b","x":316,"y":89},{"k":"b4b","x":312,"y":88},{"k":"b4b","x":308,"y":87},{"k":"b4b","x":304,"y":86},{"k":"b4b","x":300,"y":85},
{"k":"b5b","x":472,"y":70},{"k":"b5b","x":468,"y":71},{"k":"b5b","x":464,"y":73},{"k":"b5b","x":460,"y":75},{"k":"b5b","x":456,"y":77},{"k":"b5b","x":452,"y":80},{"k":"b5b","x":448,"y":82},{"k":"b5b","x":444,"y":85},{"k":"b5b","x":440,"y":87},{"k":"b5b","x":436,"y":91},{"k":"b5b","x":432,"y":96},{"k":"b5b","x":428,"y":102},{"k":"b5b","x":424,"y":108},{"k":"b5b","x":420,"y":113},{"k":"b5b","x":416,"y":117},{"k":"b5b","x":412,"y":118.5},{"k":"b5b","x":408,"y":118},{"k":"b5b","x":404,"y":115},{"k":"b5b","x":400,"y":109},{"k":"b5b","x":396,"y":101},{"k":"b5b","x":392,"y":93},{"k":"b5b","x":388,"y":86},{"k":"b5b","x":384,"y":81},{"k":"b5b","x":380,"y":80},{"k":"b5b","x":376,"y":78},{"k":"b5b","x":372,"y":77},{"k":"b5b","x":368,"y":76},{"k":"b5b","x":364,"y":78},{"k":"b5b","x":360,"y":76},{"k":"b5b","x":356,"y":78},{"k":"b5b","x":352,"y":80},{"k":"b5b","x":348,"y":77},{"k":"b5b","x":344,"y":76},{"k":"b5b","x":340,"y":78},{"k":"b5b","x":336,"y":75},{"k":"b5b","x":332,"y":77},{"k":"b5b","x":328,"y":75},{"k":"b5b","x":324,"y":74},{"k":"b5b","x":320,"y":73},{"k":"b5b","x":316,"y":71},{"k":"b5b","x":312,"y":72},{"k":"b5b","x":308,"y":69},{"k":"b5b","x":304,"y":70},{"k":"b5b","x":300,"y":68},
{"k":"b6b","x":472,"y":50},{"k":"b6b","x":468,"y":52},{"k":"b6b","x":464,"y":53},{"k":"b6b","x":460,"y":56},{"k":"b6b","x":456,"y":58},{"k":"b6b","x":452,"y":61},{"k":"b6b","x":448,"y":63},{"k":"b6b","x":444,"y":65},{"k":"b6b","x":440,"y":67},{"k":"b6b","x":436,"y":71},{"k":"b6b","x":432,"y":76},{"k":"b6b","x":428,"y":82},{"k":"b6b","x":424,"y":87},{"k":"b6b","x":420,"y":92},{"k":"b6b","x":416,"y":96},{"k":"b6b","x":412,"y":98},{"k":"b6b","x":408,"y":98},{"k":"b6b","x":404,"y":95},{"k":"b6b","x":400,"y":89},{"k":"b6b","x":396,"y":80},{"k":"b6b","x":392,"y":71},{"k":"b6b","x":388,"y":63},{"k":"b6b","x":384,"y":56},{"k":"b6b","x":380,"y":52},{"k":"b6b","x":376,"y":50},{"k":"b6b","x":372,"y":48},{"k":"b6b","x":368,"y":49},{"k":"b6b","x":364,"y":47},{"k":"b6b","x":360,"y":48.5},{"k":"b6b","x":356,"y":46},{"k":"b6b","x":352,"y":48},{"k":"b6b","x":348,"y":50},{"k":"b6b","x":344,"y":47},{"k":"b6b","x":340,"y":49},{"k":"b6b","x":336,"y":46},{"k":"b6b","x":332,"y":49},{"k":"b6b","x":328,"y":47},{"k":"b6b","x":324,"y":45},{"k":"b6b","x":320,"y":46},{"k":"b6b","x":316,"y":43},{"k":"b6b","x":312,"y":44},{"k":"b6b","x":308,"y":42},{"k":"b6b","x":304,"y":41},{"k":"b6b","x":300,"y":40}
],
"botRule": [{"x":526.3,"y":11,"y2":255},{"x":422.9,"y":25,"y2":203},{"x":405.4,"y":38,"y2":191}],
"botNum": [{"t":"132.9","x":475.5,"y":147.5},{"t":"61.1","x":475.5,"y":132},{"t":"42.9","x":475.5,"y":115.5},{"t":"28.1","x":475.5,"y":99},{"t":"21.4","x":475.5,"y":82},{"t":"9.8","x":475.5,"y":64},{"t":"0.0","x":475.5,"y":46}],
"botMin": [{"t":"min","x":473.5,"y":147.5}],
"botAnnC": [{"t":"toluene","x":552.7,"y":237},{"t":"amorphous","x":382.4,"y":211}],
"botAnnR": [{"t":"T2G2","x":421.5,"y":212}]
},
"vconcat": [
{
  "width": 426, "height": 263,
  "title": {"text": "sPS / toluene", "anchor": "end", "fontSize": 16, "fontWeight": "bold", "offset": 4, "dx": 0, "color": "black", "font": "Liberation Sans"},
  "encoding": {
    "x": {"field": "x", "type": "quantitative", "scale": {"domain": [1131, 1400], "reverse": true, "nice": false, "zero": false},
      "axis": {"values": [1400,1390,1380,1370,1360,1350,1340,1330,1320,1310,1300,1290,1280,1270,1260,1250,1240,1230,1220,1210,1200,1190,1180,1170,1160,1150,1140],
        "labelExpr": "datum.value % 50 == 0 ? datum.label : ''", "format": "d",
        "tickSize": {"condition": {"test": "datum.value % 50 == 0", "value": -8}, "value": -4},
        "tickWidth": 1.2, "labelFontSize": 17, "labelPadding": 14, "labelOverlap": false, "labelFlush": false, "labelBound": false, "title": null, "domain": false}},
    "y": {"field": "y", "type": "quantitative", "scale": {"domain": [0, 263], "nice": false, "zero": false},
      "axis": {"title": "Intensity", "titleFontSize": 20, "labels": false, "ticks": false, "domain": false, "titlePadding": 10}}
  },
  "layer": [
    {"data": {"name": "top"}, "mark": {"type": "line", "color": "black", "strokeWidth": 1.2}, "encoding": {"detail": {"field": "k"}}},
    {"data": {"name": "topRule"}, "mark": {"type": "rule", "color": "black", "strokeWidth": 1.3, "strokeDash": [4, 3]}, "encoding": {"y2": {"field": "y2"}}},
    {"data": {"name": "topNum"}, "mark": {"type": "text", "align": "right", "baseline": "middle", "fontSize": 17}, "encoding": {"text": {"field": "t"}}},
    {"data": {"name": "topMin"}, "mark": {"type": "text", "align": "left", "baseline": "middle", "fontSize": 17}, "encoding": {"text": {"field": "t"}}},
    {"data": {"name": "topAnn"}, "mark": {"type": "text", "align": "center", "baseline": "middle", "fontSize": 17}, "encoding": {"text": {"field": "t"}}}
  ]
},
{
  "width": 426, "height": 264,
  "encoding": {
    "x": {"field": "x", "type": "quantitative", "scale": {"domain": [300, 580], "reverse": true, "nice": false, "zero": false},
      "axis": {"values": [570,560,550,540,530,520,510,500,490,480,470,460,450,440,430,420,410,400,390,380,370,360,350,340,330,320,310],
        "labelExpr": "datum.value % 40 == 0 ? datum.label : ''", "format": "d",
        "tickSize": {"condition": {"test": "datum.value % 40 == 0", "value": -8}, "value": -4},
        "tickWidth": 1.2, "labelFontSize": 17, "labelPadding": 15, "labelOverlap": false, "labelFlush": false, "labelBound": false,
        "title": "Wavenumber / cm⁻¹", "titleFontSize": 19, "titlePadding": 3, "domain": false}},
    "y": {"field": "y", "type": "quantitative", "scale": {"domain": [0, 264], "nice": false, "zero": false},
      "axis": {"title": "Intensity", "titleFontSize": 20, "labels": false, "ticks": false, "domain": false, "titlePadding": 10}}
  },
  "layer": [
    {"data": {"name": "bot"}, "mark": {"type": "line", "color": "black", "strokeWidth": 1.2}, "encoding": {"detail": {"field": "k"}}},
    {"data": {"name": "botRule"}, "mark": {"type": "rule", "color": "black", "strokeWidth": 1.3, "strokeDash": [4, 3]}, "encoding": {"y2": {"field": "y2"}}},
    {"data": {"name": "botNum"}, "mark": {"type": "text", "align": "right", "baseline": "middle", "fontSize": 16}, "encoding": {"text": {"field": "t"}}},
    {"data": {"name": "botMin"}, "mark": {"type": "text", "align": "left", "baseline": "middle", "fontSize": 16}, "encoding": {"text": {"field": "t"}}},
    {"data": {"name": "botAnnC"}, "mark": {"type": "text", "align": "center", "baseline": "middle", "fontSize": 17}, "encoding": {"text": {"field": "t"}}},
    {"data": {"name": "botAnnR"}, "mark": {"type": "text", "align": "right", "baseline": "middle", "fontSize": 17}, "encoding": {"text": {"field": "t"}}}
  ]
}
]
}
